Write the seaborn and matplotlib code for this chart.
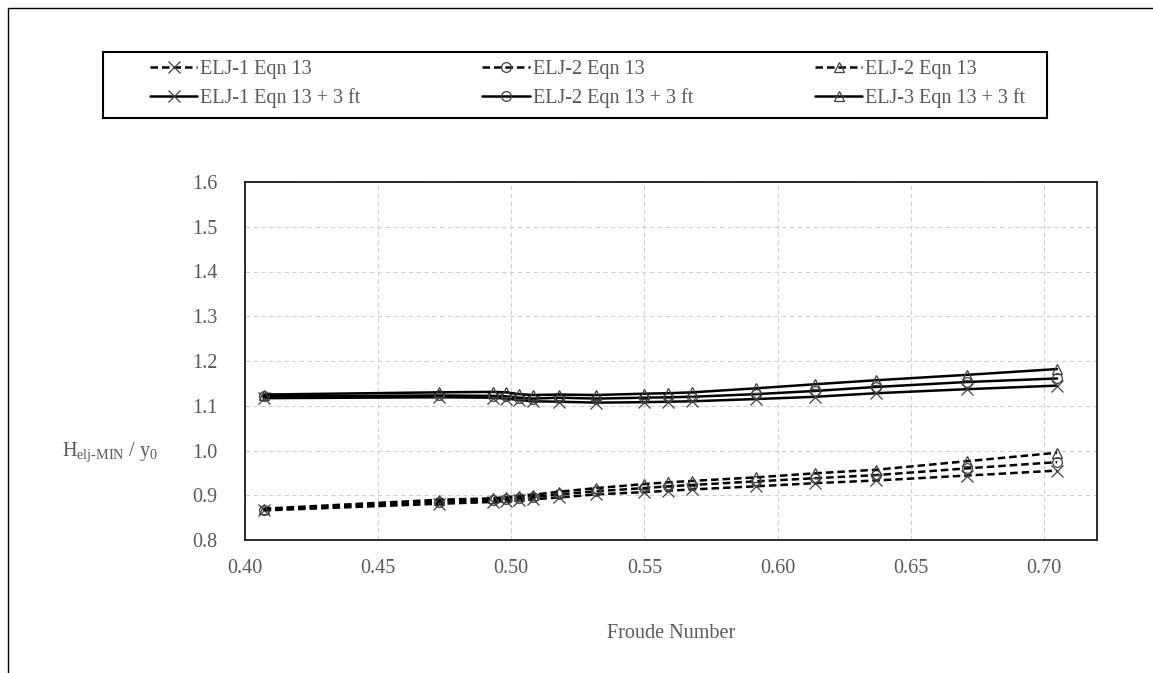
# Froude number vs H_elj-MIN / y0 chart
import matplotlib
matplotlib.use("Agg")
import matplotlib.pyplot as plt
import seaborn as sns
from matplotlib.patches import Rectangle

# data
froude = [0.407, 0.473, 0.493, 0.498, 0.503, 0.508, 0.518, 0.532,
          0.550, 0.559, 0.568, 0.592, 0.614, 0.637, 0.671, 0.705]

elj1_eqn13 = [0.866, 0.881, 0.885, 0.887, 0.889, 0.891, 0.895, 0.902,
              0.907, 0.910, 0.913, 0.920, 0.927, 0.933, 0.944, 0.955]
elj2_eqn13 = [0.868, 0.886, 0.889, 0.891, 0.894, 0.896, 0.902, 0.909,
              0.916, 0.920, 0.923, 0.931, 0.938, 0.945, 0.960, 0.974]
elj3_eqn13 = [0.870, 0.890, 0.893, 0.895, 0.898, 0.901, 0.908, 0.916,
              0.925, 0.929, 0.932, 0.940, 0.949, 0.957, 0.976, 0.995]

elj1_eqn13_3ft = [1.117, 1.119, 1.118, 1.116, 1.113, 1.110, 1.109, 1.107,
                  1.108, 1.109, 1.110, 1.115, 1.120, 1.128, 1.137, 1.145]
elj2_eqn13_3ft = [1.121, 1.123, 1.122, 1.121, 1.118, 1.116, 1.118, 1.116,
                  1.118, 1.119, 1.120, 1.126, 1.133, 1.142, 1.153, 1.161]
elj3_eqn13_3ft = [1.125, 1.130, 1.131, 1.130, 1.126, 1.124, 1.125, 1.124,
                  1.127, 1.128, 1.130, 1.139, 1.148, 1.157, 1.169, 1.182]

labels = ["ELJ-1 Eqn 13", "ELJ-1 Eqn 13 + 3 ft",
          "ELJ-2 Eqn 13", "ELJ-2 Eqn 13 + 3 ft",
          "ELJ-2 Eqn 13", "ELJ-3 Eqn 13 + 3 ft"]
series = [elj1_eqn13, elj1_eqn13_3ft, elj2_eqn13, elj2_eqn13_3ft,
          elj3_eqn13, elj3_eqn13_3ft]
markers = ["x", "x", "o", "o", "^", "^"]
dashed = [True, False, True, False, True, False]

xticks = [0.40, 0.45, 0.50, 0.55, 0.60, 0.65, 0.70]
yticks = [0.8, 0.9, 1.0, 1.1, 1.2, 1.3, 1.4, 1.5, 1.6]

sns.set_style("white")
plt.rcParams["font.family"] = ["Liberation Serif", "DejaVu Serif"]
plt.rcParams["mathtext.fontset"] = "custom"
plt.rcParams["mathtext.rm"] = "Liberation Serif"
plt.rcParams["mathtext.it"] = "Liberation Serif"

grey = "#595959"
W, H = 1153, 673

fig = plt.figure(figsize=(W / 100, H / 100), dpi=100)
ax = fig.add_axes([245 / W, 1 - 540 / H, (1097 - 245) / W, (540 - 182) / H])

handles = []
for vals, lab, mk, ds in zip(series, labels, markers, dashed):
    sns.lineplot(x=froude, y=vals, ax=ax, sort=False, estimator=None,
                 color="black", linewidth=1.8,
                 linestyle=(0, (3, 1.6)) if ds else "-",
                 marker=mk, markersize=7 if mk != "x" else 8,
                 markerfacecolor="none", markeredgecolor="#404040",
                 markeredgewidth=0.9, label=lab)
    handles.append(ax.lines[-1])
if ax.get_legend() is not None:
    ax.get_legend().remove()

ax.set_xlim(0.40, 0.72)
ax.set_ylim(0.8, 1.6)
ax.set_xticks(xticks)
ax.set_xticklabels([f"{t:.2f}" for t in xticks])
ax.set_yticks(yticks)
ax.set_yticklabels([f"{t:.1f}" for t in yticks])
ax.tick_params(length=0, labelsize=14.5, labelcolor=grey)
ax.tick_params(axis="x", pad=14)
ax.tick_params(axis="y", pad=20)
ax.grid(True, color="#d0d0d0", linestyle=(0, (4, 3)), linewidth=0.8)
for s in ax.spines.values():
    s.set_color("#1a1a1a")
    s.set_linewidth(1.3)

fig.text(671 / W, 1 - 633 / H, "Froude Number", ha="center", va="center",
         fontsize=14.5, color=grey)
fig.text(158 / W, 1 - 452 / H,
         r"H$_{\mathregular{elj‐MIN}}$ / y$_{\mathregular{0}}$",
         ha="right", va="center", fontsize=14.5, color=grey)

# legend entries without frame, frame drawn separately
leg = fig.legend(handles=handles, labels=labels, ncol=3,
                 loc="upper left", bbox_to_anchor=(150 / W, 1 - 60 / H),
                 frameon=False, fontsize=14.5,
                 handlelength=2.35, handletextpad=0.15, borderaxespad=0,
                 borderpad=0, labelspacing=0.45, columnspacing=6.05)
for t in leg.get_texts():
    t.set_color(grey)

fig.patches.append(Rectangle((103 / W, 1 - 118 / H), (1047 - 103) / W, 66 / H,
                             transform=fig.transFigure, fill=False,
                             edgecolor="black", linewidth=1.5))

# outer chart border
fig.patches.append(Rectangle((8 / W, -0.05), 1.1, 1 - 8 / H + 0.05,
                             transform=fig.transFigure, fill=False,
                             edgecolor="black", linewidth=1.0))

fig.savefig("out.png", dpi=100)
